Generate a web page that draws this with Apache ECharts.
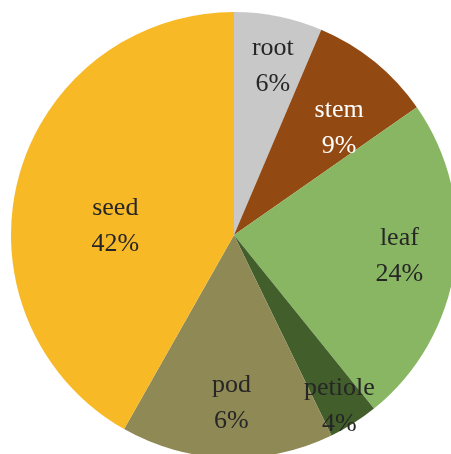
<!DOCTYPE html>
<html>
<head>
<meta charset="utf-8">
<script src="https://cdn.jsdelivr.net/npm/echarts@6/dist/echarts.min.js"></script>
<style>html,body{margin:0;padding:0;background:#fff;}#c{width:451px;height:454px;}</style>
</head>
<body>
<div id="c"></div>
<script>
// Data
const categories = ['root', 'stem', 'leaf', 'petiole', 'pod', 'seed'];
const values = [6.4, 8.9, 23.9, 3.6, 15.4, 41.8];
const pctLabels = ['6%', '9%', '24%', '4%', '6%', '42%'];

// Styles
const colors = ['#C8C8C9', '#934A12', '#89B662', '#425E2B', '#8F8956', '#F8B927'];
const labelColors = ['#262626', '#FFFFFF', '#262626', '#262626', '#262626', '#262626'];
const labelNudge = [[16, -57], [33, -18], [52, 5], [44, 74], [1, 54], [-8, 20]];

const chart = echarts.init(document.getElementById('c'), null, {renderer: 'canvas'});
chart.setOption({
  animation: false,
  backgroundColor: '#ffffff',
  series: [{
    type: 'pie',
    center: [234, 235],
    radius: 223,
    startAngle: 90,
    clockwise: true,
    avoidLabelOverlap: false,
    itemStyle: {borderWidth: 0},
    label: {
      show: true,
      position: 'inside',
      fontFamily: 'Liberation Serif',
      fontSize: 26,
      lineHeight: 36,
      formatter: function (p) { return p.name + '\n' + pctLabels[p.dataIndex]; }
    },
    labelLine: {show: false},
    labelLayout: function (params) {
      const n = labelNudge[params.dataIndex];
      return {dx: n[0], dy: n[1]};
    },
    emphasis: {disabled: true},
    data: categories.map(function (c, i) {
      return {
        name: c,
        value: values[i],
        itemStyle: {color: colors[i]},
        label: {color: labelColors[i]}
      };
    })
  }]
});
</script>
</body>
</html>
